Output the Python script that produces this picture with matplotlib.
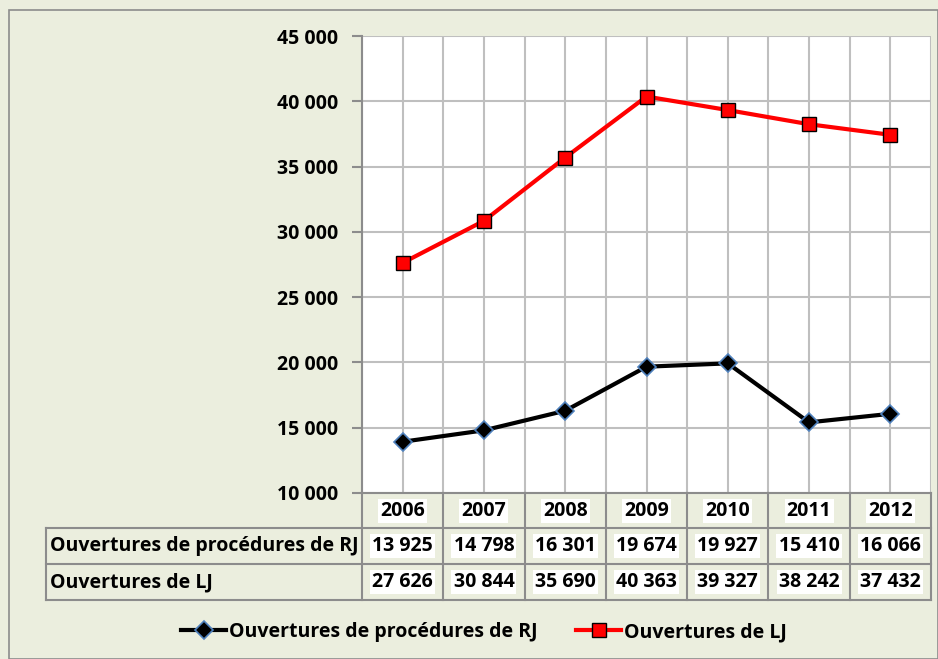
import matplotlib.pyplot as plt
from matplotlib.lines import Line2D
from matplotlib.patches import Rectangle
from matplotlib.transforms import blended_transform_factory
from matplotlib.ticker import FuncFormatter

annees = ["2006", "2007", "2008", "2009", "2010", "2011", "2012"]
rj = [13925, 14798, 16301, 19674, 19927, 15410, 16066]
lj = [27626, 30844, 35690, 40363, 39327, 38242, 37432]
nom_rj = "Ouvertures de procédures de RJ"
nom_lj = "Ouvertures de LJ"

plt.rcParams['font.family'] = ['Open Sans', 'DejaVu Sans']
plt.rcParams['font.weight'] = 'bold'
fs = 14
W, H = 938, 659
fond = '#EBEEDE'
gris = '#8C8C8C'


def fx(px):
    return px / W


def fy(py):
    return 1 - py / H


def fmt(v):
    return f"{v:,}".replace(",", " ")


fig = plt.figure(figsize=(W / 100, H / 100), dpi=100, facecolor=fond)
fig.patches.append(Rectangle((fx(9), fy(659)), fx(929), fy(10) - fy(659),
                             transform=fig.transFigure, fill=False,
                             edgecolor=gris, linewidth=1.2))

x0, x1, ytop, ybot = 362, 931, 36, 493
ax = fig.add_axes([fx(x0), fy(ybot), fx(x1) - fx(x0), fy(ytop) - fy(ybot)])
ax.set_facecolor('white')
x = list(range(len(annees)))

ax.plot(x, lj, color='#FF0000', lw=3, marker='s', ms=9.5,
        mfc='#FF0000', mec='black', mew=1, label=nom_lj, zorder=3)
ax.plot(x, rj, color='black', lw=3, marker='D', ms=9.5,
        mfc='black', mec='#4F81BD', mew=1.2, label=nom_rj, zorder=3)

ax.set_xlim(-0.5, len(annees) - 0.5)
ax.set_ylim(10000, 45000)
ax.set_yticks(range(10000, 45001, 5000))
ax.yaxis.set_major_formatter(FuncFormatter(lambda v, p: fmt(int(v))))
ax.set_xticks(x)
ax.set_xticks([i - 0.5 for i in range(len(annees) + 1)], minor=True)
ax.tick_params(axis='x', which='both', length=0, labelbottom=False)
ax.tick_params(axis='y', length=7, color=gris, width=1.5, labelsize=fs, pad=10)
ax.grid(True, which='both', color='#BFBFBF', lw=1.5)
ax.set_axisbelow(True)
for s in ['top', 'right', 'bottom']:
    ax.spines[s].set_visible(False)
ax.spines['left'].set_color(gris)
ax.spines['left'].set_linewidth(1.5)

# table de données
tr = blended_transform_factory(ax.transData, fig.transFigure)
rows = [493, 528, 564, 600]
lkw = dict(color=gris, lw=1.5, clip_on=False)
for yy in rows[1:]:
    fig.add_artist(Line2D([fx(46), fx(x1)], [fy(yy), fy(yy)], transform=fig.transFigure, **lkw))
fig.add_artist(Line2D([fx(x0), fx(x1)], [fy(493), fy(493)], transform=fig.transFigure, **lkw))
fig.add_artist(Line2D([fx(46), fx(46)], [fy(528), fy(600)], transform=fig.transFigure, **lkw))
for b in range(len(annees) + 1):
    fig.add_artist(Line2D([b - 0.5, b - 0.5], [fy(493), fy(600)], transform=tr, **lkw))

box = dict(facecolor='white', edgecolor='none', pad=1.5)
for i, an in enumerate(annees):
    fig.text(i, fy(511), an, transform=tr, ha='center', va='center', fontsize=fs, bbox=box)
    fig.text(i, fy(546), fmt(rj[i]), transform=tr, ha='center', va='center', fontsize=fs, bbox=box)
    fig.text(i, fy(582), fmt(lj[i]), transform=tr, ha='center', va='center', fontsize=fs, bbox=box)
fig.text(fx(50), fy(546), nom_rj, ha='left', va='center', fontsize=fs)
fig.text(fx(50), fy(582), nom_lj, ha='left', va='center', fontsize=fs)

h, l = ax.get_legend_handles_labels()
fig.legend(h[::-1], l[::-1], loc='center', bbox_to_anchor=(fx(484), fy(632)),
           ncol=2, frameon=False, fontsize=fs, numpoints=1, handlelength=2.3,
           handletextpad=0.15, columnspacing=2.0)

plt.savefig("out.png", dpi=100, facecolor=fond)
